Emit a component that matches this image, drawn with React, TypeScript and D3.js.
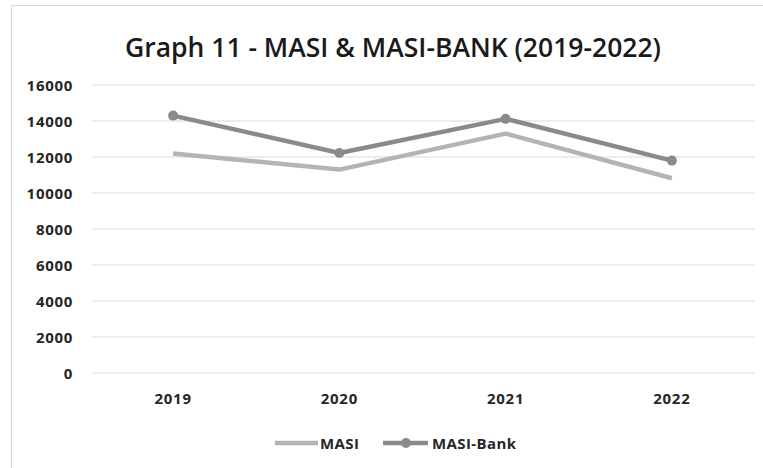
import * as d3 from "d3";

const years = ["2019", "2020", "2021", "2022"];
const masi = [12200, 11300, 13300, 10820];
const masiBank = [14300, 12220, 14120, 11800];
const yTicks = [0, 2000, 4000, 6000, 8000, 10000, 12000, 14000, 16000];

const W = 763;
const H = 468;
const FONT = "'Open Sans', sans-serif";

export default function App() {
  const x = d3.scaleBand().domain(years).range([90, 755]);
  const y = d3.scaleLinear().domain([0, 16000]).range([373, 85]);
  const cx = (d: string) => (x(d) ?? 0) + x.bandwidth() / 2;

  const line = d3
    .line<number>()
    .x((_, i) => cx(years[i]))
    .y((v) => y(v));

  return (
    <svg
      width={W}
      height={H}
      style={{ position: "fixed", left: 0, top: 0, background: "#fff" }}
    >
      <rect x={0} y={0} width={W} height={H} fill="#fff" />
      {/* outer frame (only top and left visible) */}
      <line x1={11} y1={5.5} x2={W} y2={5.5} stroke="#d9d9d9" strokeWidth={1.2} />
      <line x1={11.5} y1={5} x2={11.5} y2={H} stroke="#d9d9d9" strokeWidth={1.2} />

      <text
        x={393}
        y={57}
        textAnchor="middle"
        fontFamily={FONT}
        fontSize={26.5}
        fontWeight={600}
        fill="#1a1a1a"
      >
        Graph 11 - MASI &amp; MASI-BANK (2019-2022)
      </text>

      {yTicks.map((t) => (
        <g key={t}>
          <line x1={92} x2={755} y1={y(t)} y2={y(t)} stroke="#d9d9d9" strokeWidth={1} />
          <text
            x={73}
            y={y(t) + 5.5}
            textAnchor="end"
            fontFamily={FONT}
            fontSize={15}
            fontWeight={700}
            letterSpacing={0.7}
            fill="#262626"
          >
            {t}
          </text>
        </g>
      ))}

      {years.map((yr) => (
        <text
          key={yr}
          x={cx(yr)}
          y={404}
          textAnchor="middle"
          fontFamily={FONT}
          fontSize={15}
          fontWeight={700}
          letterSpacing={0.7}
          fill="#262626"
        >
          {yr}
        </text>
      ))}

      <path d={line(masi) ?? ""} fill="none" stroke="#b4b4b4" strokeWidth={4.5} strokeLinejoin="round" />
      <path d={line(masiBank) ?? ""} fill="none" stroke="#8a8a8a" strokeWidth={4.5} strokeLinejoin="round" />
      {masiBank.map((v, i) => (
        <circle key={i} cx={cx(years[i])} cy={y(v)} r={5} fill="#8a8a8a" />
      ))}

      {/* legend */}
      <g fontFamily={FONT} fontSize={15} fontWeight={700} fill="#262626">
        <line x1={275} x2={318} y1={443} y2={443} stroke="#b4b4b4" strokeWidth={4.5} />
        <text x={320} y={448.5} letterSpacing={0.4}>MASI</text>
        <line x1={383} x2={428} y1={443} y2={443} stroke="#8a8a8a" strokeWidth={4.5} />
        <circle cx={406} cy={443} r={5} fill="#8a8a8a" />
        <text x={432} y={448.5} letterSpacing={0.4}>MASI-Bank</text>
      </g>
    </svg>
  );
}
